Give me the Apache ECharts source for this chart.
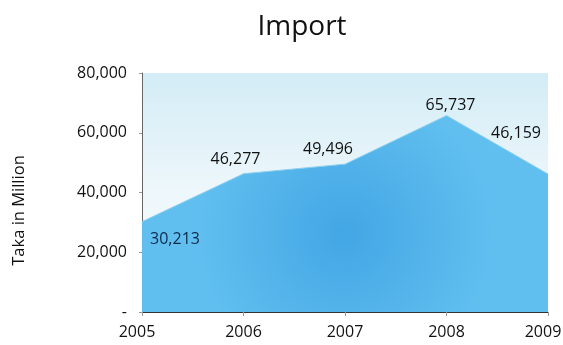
<!DOCTYPE html>
<html><head><meta charset="utf-8">
<script src="https://cdn.jsdelivr.net/npm/echarts@6/dist/echarts.min.js"></script>
<style>html,body{margin:0;padding:0;background:#fff}#c{width:563px;height:345px}</style>
</head><body><div id="c"></div>
<script>
var categories = ['2005','2006','2007','2008','2009'];
var importValues = [30213, 46277, 49496, 65737, 46159];
var yTicks = [0, 20000, 40000, 60000, 80000];

var labelPos = [
  {position:'bottom', offset:[33,4], color:'#0d2a4a'},
  {position:'top', offset:[-8,0]},
  {position:'top', offset:[-17,-1]},
  {position:'top', offset:[4,4]},
  {position:'top', offset:[-32,-27]}
];
var fmt = function(v){ return v.toLocaleString('en-US'); };
var chart = echarts.init(document.getElementById('c'));
chart.setOption({
  animation:false,
  title:{text:'Import', left:297, textAlign:'center', top:8,
    textStyle:{fontFamily:'Open Sans', fontSize:28, fontWeight:'normal', color:'#111'}},
  grid:{left:142, right:15, top:73, bottom:33, show:true, borderWidth:0,
    outerBoundsMode:'none', containLabel:false,
    backgroundColor:{type:'linear',x:0,y:0,x2:0,y2:1,colorStops:[{offset:0,color:'#d3ecf6'},{offset:0.5,color:'#eef7fb'},{offset:1,color:'#f4fafc'}]}},
  xAxis:{type:'category', data:categories, boundaryGap:false,
    axisLine:{lineStyle:{color:'#333',width:1}},
    axisTick:{show:true, length:4, interval:0, lineStyle:{color:'#999'}},
    axisLabel:{color:'#111', fontFamily:'Open Sans', fontSize:16, margin:12, interval:0, hideOverlap:false,
      formatter:function(v,i){ return (i===0||i===categories.length-1) ? '{edge|'+v+'}' : v; },
      rich:{edge:{color:'#111', fontFamily:'Open Sans', fontSize:16, padding:[0,10,0,0]}}}},
  yAxis:{type:'value', min:0, max:80000, interval:20000,
    name:'Taka in Million', nameLocation:'middle', nameGap:114, nameRotate:90,
    nameTextStyle:{fontFamily:'Open Sans', fontSize:16.5, color:'#111', padding:[0,36,0,0]},
    axisLine:{show:true, lineStyle:{color:'#666',width:1}},
    axisTick:{show:true, length:3, lineStyle:{color:'#999'}},
    splitLine:{show:false},
    axisLabel:{color:'#111', fontFamily:'Open Sans', fontSize:16, margin:15,
      formatter:function(v){ return v===0 ? '-' : fmt(v); }}},
  series:[{type:'line', data:importValues.map(function(v,i){
      return {value:v, label:labelPos[i]};
    }),
    symbol:'circle', symbolSize:2, showSymbol:true, itemStyle:{color:'rgba(0,0,0,0)', borderWidth:0},
    lineStyle:{width:1, color:'#8ccfee'},
    areaStyle:{opacity:1, color:{type:'radial',x:0.5,y:0.6,r:0.75,colorStops:[{offset:0,color:'#43a6e5'},{offset:1,color:'#60bfef'}]}},
    label:{show:true, color:'#111', fontFamily:'Open Sans', fontSize:16,
      formatter:function(p){ return fmt(p.value); }}
  }]
});
</script></body></html>
